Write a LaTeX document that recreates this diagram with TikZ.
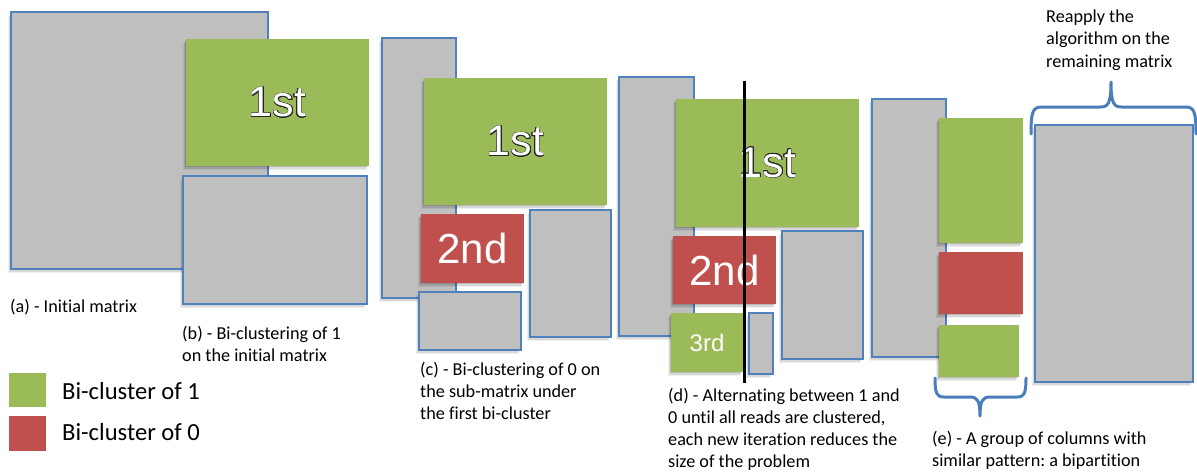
\documentclass[tikz,border=0pt]{standalone}
\usepackage{fontspec}
\setmainfont[Ligatures=NoCommon]{Carlito}
\newfontfamily\arialf{Liberation Sans}
\usepackage{contour}
\contourlength{0.65pt}
\usetikzlibrary{shadows,fit}
\definecolor{matgrey}{HTML}{BFBFBF}
\definecolor{matblue}{HTML}{4F81BD}
\definecolor{bgreen}{HTML}{9BBB59}
\definecolor{bred}{HTML}{C0504D}
\definecolor{bracecol}{HTML}{4A7EBB}
\tikzset{
  softshadow/.style={
    drop shadow={shadow xshift=-0.8pt,shadow yshift=-1.2pt,opacity=0.14,fill=black},
    drop shadow={shadow xshift=-1.8pt,shadow yshift=-2.6pt,opacity=0.10,fill=black},
    drop shadow={shadow xshift=-2.8pt,shadow yshift=-4pt,opacity=0.06,fill=black}},
  mat/.style={draw=matblue,line width=1.3pt,fill=matgrey,inner sep=0pt,softshadow},
  bone/.style={fill=bgreen,draw=none,inner sep=0pt,softshadow},
  bzero/.style={fill=bred,draw=none,inner sep=0pt,softshadow},
  txtbig/.style={text=white,inner sep=0pt,font=\arialf\fontsize{43}{43}\selectfont},
  txtmid/.style={text=white,inner sep=0pt,font=\arialf\fontsize{42}{42}\selectfont},
  txtsmall/.style={text=white,inner sep=0pt,font=\arialf\fontsize{24}{24}\selectfont},
  captext/.style={font=\fontsize{18.2}{21.8}\selectfont\frenchspacing,align=left,inner sep=0pt,anchor=north west},
  legtxt/.style={font=\fontsize{24.6}{28}\selectfont,inner sep=0pt,anchor=base west},
  legsq/.style={draw=none,inner sep=0pt},
  bracepath/.style={draw=bracecol,line width=3pt,line cap=round,line join=round}
}
\begin{document}
\begin{tikzpicture}[x=1pt,y=-1pt]
\useasboundingbox (0,0) rectangle (1197,472);
% (a)
\node[mat,fit={(11,12)(268,269)}] (a) {};
% (b)
\node[bone,fit={(186,39)(369,166)}] (bfirst) {};
\node[txtbig] (bfirstl) at (bfirst.center) {\contour{black!85}{1st}};
\node[mat,fit={(183,176)(367,304)}] (bsub) {};
% (c)
\node[mat,fit={(382,38)(456,298)}] (cleft) {};
\node[bone,fit={(424,78)(607,205)}] (cfirst) {};
\node[txtbig] (cfirstl) at (cfirst.center) {\contour{black!85}{1st}};
\node[bzero,fit={(421,214)(524,283)}] (csecond) {};
\node[txtmid] (csecondl) at (csecond.center) {2nd};
\node[mat,fit={(419,292)(521,350)}] (cbottom) {};
\node[mat,fit={(530,210)(611,337)}] (cright) {};
% (d)
\node[mat,fit={(619,77)(694,336)}] (dleft) {};
\node[bone,fit={(676,99)(859,227)}] (dfirst) {};
\node[txtbig] (dfirstl) at (dfirst.center) {\contour{black!85}{1st}};
\node[bzero,fit={(673,236)(776,304)}] (dsecond) {};
\node[txtmid] (dsecondl) at (dsecond.center) {2nd};
\node[bone,fit={(671,313)(743,372)}] (dthird) {};
\node[txtsmall] (dthirdl) at (dthird.center) {3rd};
\node[mat,fit={(749,313)(773,374)}] (dsmall) {};
\node[mat,fit={(782,231)(863,359)}] (dright) {};
\node[mat,fit={(872,99)(946,357)}] (dtall) {};
\coordinate (ltop) at (744,81);
\coordinate (lbot) at (744,383);
\draw[line width=3pt] (ltop) -- (lbot);
% (e)
\node[bone,fit={(939,118)(1023,243)}] (eone) {};
\node[bzero,fit={(939,252)(1023,314)}] (ezero) {};
\node[bone,fit={(939,325)(1019,377)}] (etwo) {};
\node[mat,fit={(1035,125)(1193,382)}] (rem) {};
% braces
\draw[bracepath] (1031,134) .. controls (1031,111) and (1033,107) .. (1042,107)
  -- (1100,107) .. controls (1108,107) and (1111,104) .. (1111,82)
  .. controls (1111,104) and (1114,107) .. (1122,107)
  -- (1185,107) .. controls (1194,107) and (1196,111) .. (1196,134);
\draw[bracepath] (935,378) .. controls (935,394) and (937,397) .. (944,397)
  -- (970,397) .. controls (977,397) and (980,400) .. (980,416)
  .. controls (980,400) and (983,397) .. (990,397)
  -- (1017,397) .. controls (1024,397) and (1026,394) .. (1026,378);
% captions
\node[captext] (capa) at (10,297.2) {\strut(a) - Initial matrix};
\node[captext] (capb) at (182,324.2) {\strut(b) - Bi-clustering of 1\\on the initial matrix};
\node[captext] (capc) at (420,360.2) {\strut(c) - Bi-clustering of 0 on\\the sub-matrix under\\the first bi-cluster};
\node[captext] (capd) at (668,386.2) {\strut(d) - Alternating between 1 and\\0 until all reads are clustered,\\each new iteration reduces the\\size of the problem};
\node[captext] (cape) at (932,429.2) {\strut(e) - A group of columns with\\similar pattern: a bipartition};
\node[captext,font=\fontsize{18.2}{22.5}\selectfont] (capr) at (1046,6.2) {\strut Reapply the\\algorithm on the\\remaining matrix};
% legend
\node[legsq,fill=bgreen,fit={(9,373)(46,407)}] (legone) {};
\node[legsq,fill=bred,fit={(9,416)(46,451)}] (legzero) {};
\node[legtxt] (legonet) at (62,399) {Bi-cluster of 1};
\node[legtxt] (legzerot) at (62,440.7) {Bi-cluster of 0};
\end{tikzpicture}
\end{document}
